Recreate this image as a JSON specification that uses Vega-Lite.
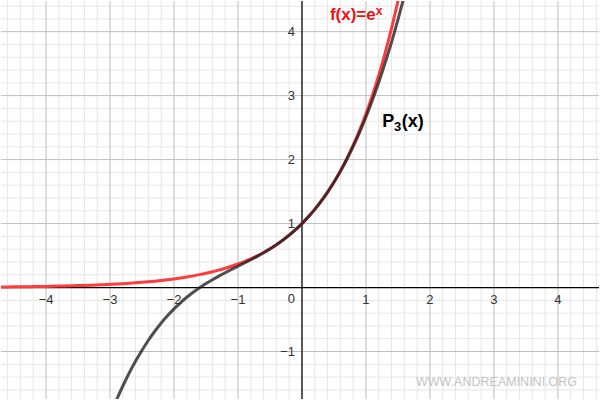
{
  "$schema": "https://vega.github.io/schema/vega-lite/v6.json",
  "width": 600,
  "height": 400,
  "padding": 0,
  "autosize": {"type": "fit", "contains": "padding"},
  "background": "white",
  "config": {"view": {"stroke": null}},
  "datasets": {
    "gx": [
      {"x": -4.6}, {"x": -4.4}, {"x": -4.2}, {"x": -4}, {"x": -3.8}, {"x": -3.6}, {"x": -3.4}, {"x": -3.2}, {"x": -3},
      {"x": -2.8}, {"x": -2.6}, {"x": -2.4}, {"x": -2.2}, {"x": -2}, {"x": -1.8}, {"x": -1.6}, {"x": -1.4}, {"x": -1.2}, {"x": -1},
      {"x": -0.8}, {"x": -0.6}, {"x": -0.4}, {"x": -0.2}, {"x": 0}, {"x": 0.2}, {"x": 0.4}, {"x": 0.6}, {"x": 0.8}, {"x": 1},
      {"x": 1.2}, {"x": 1.4}, {"x": 1.6}, {"x": 1.8}, {"x": 2}, {"x": 2.2}, {"x": 2.4}, {"x": 2.6}, {"x": 2.8}, {"x": 3},
      {"x": 3.2}, {"x": 3.4}, {"x": 3.6}, {"x": 3.8}, {"x": 4}, {"x": 4.2}, {"x": 4.4}, {"x": 4.6}
    ],
    "gy": [
      {"y": -1.6}, {"y": -1.4}, {"y": -1.2}, {"y": -1}, {"y": -0.8}, {"y": -0.6}, {"y": -0.4}, {"y": -0.2}, {"y": 0},
      {"y": 0.2}, {"y": 0.4}, {"y": 0.6}, {"y": 0.8}, {"y": 1}, {"y": 1.2}, {"y": 1.4}, {"y": 1.6}, {"y": 1.8}, {"y": 2},
      {"y": 2.2}, {"y": 2.4}, {"y": 2.6}, {"y": 2.8}, {"y": 3}, {"y": 3.2}, {"y": 3.4}, {"y": 3.6}, {"y": 3.8}, {"y": 4},
      {"y": 4.2}, {"y": 4.4}
    ],
    "ex": [
      {"x": -4.8, "y": 0.00823}, {"x": -4.7, "y": 0.0091}, {"x": -4.6, "y": 0.01005}, {"x": -4.5, "y": 0.01111},
      {"x": -4.4, "y": 0.01228}, {"x": -4.3, "y": 0.01357}, {"x": -4.2, "y": 0.015}, {"x": -4.1, "y": 0.01657},
      {"x": -4.0, "y": 0.01832}, {"x": -3.9, "y": 0.02024}, {"x": -3.8, "y": 0.02237}, {"x": -3.7, "y": 0.02472},
      {"x": -3.6, "y": 0.02732}, {"x": -3.5, "y": 0.0302}, {"x": -3.4, "y": 0.03337}, {"x": -3.3, "y": 0.03688},
      {"x": -3.2, "y": 0.04076}, {"x": -3.1, "y": 0.04505}, {"x": -3.0, "y": 0.04979}, {"x": -2.9, "y": 0.05502},
      {"x": -2.8, "y": 0.06081}, {"x": -2.7, "y": 0.06721}, {"x": -2.6, "y": 0.07427}, {"x": -2.5, "y": 0.08208},
      {"x": -2.4, "y": 0.09072}, {"x": -2.3, "y": 0.10026}, {"x": -2.2, "y": 0.1108}, {"x": -2.1, "y": 0.12246},
      {"x": -2.0, "y": 0.13534}, {"x": -1.9, "y": 0.14957}, {"x": -1.8, "y": 0.1653}, {"x": -1.7, "y": 0.18268},
      {"x": -1.6, "y": 0.2019}, {"x": -1.5, "y": 0.22313}, {"x": -1.4, "y": 0.2466}, {"x": -1.3, "y": 0.27253},
      {"x": -1.2, "y": 0.30119}, {"x": -1.1, "y": 0.33287}, {"x": -1.0, "y": 0.36788}, {"x": -0.9, "y": 0.40657},
      {"x": -0.8, "y": 0.44933}, {"x": -0.7, "y": 0.49659}, {"x": -0.6, "y": 0.54881}, {"x": -0.5, "y": 0.60653},
      {"x": -0.4, "y": 0.67032}, {"x": -0.3, "y": 0.74082}, {"x": -0.2, "y": 0.81873}, {"x": -0.1, "y": 0.90484},
      {"x": 0.0, "y": 1.0}, {"x": 0.1, "y": 1.10517}, {"x": 0.2, "y": 1.2214}, {"x": 0.3, "y": 1.34986},
      {"x": 0.4, "y": 1.49182}, {"x": 0.5, "y": 1.64872}, {"x": 0.6, "y": 1.82212}, {"x": 0.7, "y": 2.01375},
      {"x": 0.8, "y": 2.22554}, {"x": 0.9, "y": 2.4596}, {"x": 1.0, "y": 2.71828}, {"x": 1.1, "y": 3.00417},
      {"x": 1.2, "y": 3.32012}, {"x": 1.3, "y": 3.6693}, {"x": 1.4, "y": 4.0552}, {"x": 1.5, "y": 4.48169},
      {"x": 1.6, "y": 4.95303}
    ],
    "p3": [
      {"x": -3.0, "y": -2.0}, {"x": -2.9, "y": -1.7598}, {"x": -2.8, "y": -1.5387}, {"x": -2.7, "y": -1.3355},
      {"x": -2.6, "y": -1.1493}, {"x": -2.5, "y": -0.9792}, {"x": -2.4, "y": -0.824}, {"x": -2.3, "y": -0.6828},
      {"x": -2.2, "y": -0.5547}, {"x": -2.1, "y": -0.4385}, {"x": -2.0, "y": -0.3333}, {"x": -1.9, "y": -0.2382},
      {"x": -1.8, "y": -0.152}, {"x": -1.7, "y": -0.0738}, {"x": -1.6, "y": -0.0027}, {"x": -1.5, "y": 0.0625},
      {"x": -1.4, "y": 0.1227}, {"x": -1.3, "y": 0.1788}, {"x": -1.2, "y": 0.232}, {"x": -1.1, "y": 0.2832},
      {"x": -1.0, "y": 0.3333}, {"x": -0.9, "y": 0.3835}, {"x": -0.8, "y": 0.4347}, {"x": -0.7, "y": 0.4878},
      {"x": -0.6, "y": 0.544}, {"x": -0.5, "y": 0.6042}, {"x": -0.4, "y": 0.6693}, {"x": -0.3, "y": 0.7405},
      {"x": -0.2, "y": 0.8187}, {"x": -0.1, "y": 0.9048}, {"x": 0.0, "y": 1.0}, {"x": 0.1, "y": 1.1052},
      {"x": 0.2, "y": 1.2213}, {"x": 0.3, "y": 1.3495}, {"x": 0.4, "y": 1.4907}, {"x": 0.5, "y": 1.6458},
      {"x": 0.6, "y": 1.816}, {"x": 0.7, "y": 2.0022}, {"x": 0.8, "y": 2.2053}, {"x": 0.9, "y": 2.4265},
      {"x": 1.0, "y": 2.6667}, {"x": 1.1, "y": 2.9268}, {"x": 1.2, "y": 3.208}, {"x": 1.3, "y": 3.5112},
      {"x": 1.4, "y": 3.8373}, {"x": 1.5, "y": 4.1875}, {"x": 1.6, "y": 4.5627}, {"x": 1.7, "y": 4.9638}
    ],
    "xt": [
      {"x": -4, "y": 0, "t": "−4"}, {"x": -3, "y": 0, "t": "−3"}, {"x": -2, "y": 0, "t": "−2"}, {"x": -1, "y": 0, "t": "−1"},
      {"x": 1, "y": 0, "t": "1"}, {"x": 2, "y": 0, "t": "2"}, {"x": 3, "y": 0, "t": "3"}, {"x": 4, "y": 0, "t": "4"}
    ],
    "yt": [
      {"x": 0, "y": -1, "t": "−1"}, {"x": 0, "y": 1, "t": "1"}, {"x": 0, "y": 2, "t": "2"}, {"x": 0, "y": 3, "t": "3"}, {"x": 0, "y": 4, "t": "4"}
    ]
  },
  "layer": [
    {
      "data": {"name": "gx"},
      "transform": [{"filter": "abs(datum.x - round(datum.x)) > 0.001"}],
      "mark": {"type": "rule", "color": "#e6e6e6", "strokeWidth": 1},
      "encoding": {
        "x": {"field": "x", "type": "quantitative", "scale": {"domain": [-4.704, 4.642], "nice": false, "zero": false}, "axis": null}
      }
    },
    {
      "data": {"name": "gy"},
      "transform": [{"filter": "abs(datum.y - round(datum.y)) > 0.001"}],
      "mark": {"type": "rule", "color": "#e6e6e6", "strokeWidth": 1},
      "encoding": {
        "y": {"field": "y", "type": "quantitative", "scale": {"domain": [-1.742, 4.479], "nice": false, "zero": false}, "axis": null}
      }
    },
    {
      "data": {"name": "gx"},
      "transform": [{"filter": "abs(datum.x - round(datum.x)) < 0.001"}],
      "mark": {"type": "rule", "color": "#bdbdbd", "strokeWidth": 1},
      "encoding": {
        "x": {"field": "x", "type": "quantitative", "scale": {"domain": [-4.704, 4.642], "nice": false, "zero": false}, "axis": null}
      }
    },
    {
      "data": {"name": "gy"},
      "transform": [{"filter": "abs(datum.y - round(datum.y)) < 0.001"}],
      "mark": {"type": "rule", "color": "#bdbdbd", "strokeWidth": 1},
      "encoding": {
        "y": {"field": "y", "type": "quantitative", "scale": {"domain": [-1.742, 4.479], "nice": false, "zero": false}, "axis": null}
      }
    },
    {
      "data": {"values": [{"x": 0, "x2": 0, "y": -2, "y2": 5}, {"x": -5, "x2": 5, "y": 0, "y2": 0}]},
      "mark": {"type": "rule", "color": "#000000", "strokeWidth": 1.2, "clip": true},
      "encoding": {
        "x": {"field": "x", "type": "quantitative", "scale": {"domain": [-4.704, 4.642], "nice": false, "zero": false}, "axis": null},
        "x2": {"field": "x2"},
        "y": {"field": "y", "type": "quantitative", "scale": {"domain": [-1.742, 4.479], "nice": false, "zero": false}, "axis": null},
        "y2": {"field": "y2"}
      }
    },
    {
      "data": {"name": "ex"},
      "mark": {"type": "line", "color": "#ff3b3b", "strokeWidth": 3, "clip": true, "interpolate": "monotone"},
      "encoding": {
        "x": {"field": "x", "type": "quantitative", "scale": {"domain": [-4.704, 4.642], "nice": false, "zero": false}, "axis": null},
        "y": {"field": "y", "type": "quantitative", "scale": {"domain": [-1.742, 4.479], "nice": false, "zero": false}, "axis": null}
      }
    },
    {
      "data": {"name": "p3"},
      "mark": {"type": "line", "color": "#1e1e1e", "opacity": 0.78, "strokeWidth": 3, "clip": true, "interpolate": "monotone"},
      "encoding": {
        "x": {"field": "x", "type": "quantitative", "scale": {"domain": [-4.704, 4.642], "nice": false, "zero": false}, "axis": null},
        "y": {"field": "y", "type": "quantitative", "scale": {"domain": [-1.742, 4.479], "nice": false, "zero": false}, "axis": null}
      }
    },
    {
      "data": {"name": "xt"},
      "mark": {"type": "text", "font": "Liberation Sans", "fontSize": 13, "color": "#333333", "align": "center", "baseline": "middle", "dy": 12},
      "encoding": {
        "x": {"field": "x", "type": "quantitative", "scale": {"domain": [-4.704, 4.642], "nice": false, "zero": false}, "axis": null},
        "y": {"field": "y", "type": "quantitative", "scale": {"domain": [-1.742, 4.479], "nice": false, "zero": false}, "axis": null},
        "text": {"field": "t"}
      }
    },
    {
      "data": {"name": "yt"},
      "mark": {"type": "text", "font": "Liberation Sans", "fontSize": 13, "color": "#333333", "align": "right", "baseline": "middle", "dx": -7},
      "encoding": {
        "x": {"field": "x", "type": "quantitative", "scale": {"domain": [-4.704, 4.642], "nice": false, "zero": false}, "axis": null},
        "y": {"field": "y", "type": "quantitative", "scale": {"domain": [-1.742, 4.479], "nice": false, "zero": false}, "axis": null},
        "text": {"field": "t"}
      }
    },
    {
      "data": {"values": [{"x": 0, "y": 0, "t": "0"}]},
      "mark": {"type": "text", "font": "Liberation Sans", "fontSize": 13, "color": "#333333", "align": "center", "baseline": "middle", "dx": -10.5, "dy": 11},
      "encoding": {
        "x": {"field": "x", "type": "quantitative", "scale": {"domain": [-4.704, 4.642], "nice": false, "zero": false}, "axis": null},
        "y": {"field": "y", "type": "quantitative", "scale": {"domain": [-1.742, 4.479], "nice": false, "zero": false}, "axis": null},
        "text": {"field": "t"}
      }
    },
    {
      "data": {"values": [{"x": 0.436, "y": 4.176, "t": "f(x)=e"}]},
      "mark": {"type": "text", "font": "Liberation Sans", "fontSize": 17, "fontWeight": "bold", "color": "#ee1111", "align": "left", "baseline": "alphabetic"},
      "encoding": {
        "x": {"field": "x", "type": "quantitative", "scale": {"domain": [-4.704, 4.642], "nice": false, "zero": false}, "axis": null},
        "y": {"field": "y", "type": "quantitative", "scale": {"domain": [-1.742, 4.479], "nice": false, "zero": false}, "axis": null},
        "text": {"field": "t"}
      }
    },
    {
      "data": {"values": [{"x": 1.153, "y": 4.262, "t": "x"}]},
      "mark": {"type": "text", "font": "Liberation Sans", "fontSize": 12, "fontWeight": "bold", "color": "#ee1111", "align": "left", "baseline": "alphabetic"},
      "encoding": {
        "x": {"field": "x", "type": "quantitative", "scale": {"domain": [-4.704, 4.642], "nice": false, "zero": false}, "axis": null},
        "y": {"field": "y", "type": "quantitative", "scale": {"domain": [-1.742, 4.479], "nice": false, "zero": false}, "axis": null},
        "text": {"field": "t"}
      }
    },
    {
      "data": {"values": [{"x": 1.253, "y": 2.509, "t": "P"}, {"x": 1.558, "y": 2.509, "t": "(x)"}]},
      "mark": {"type": "text", "font": "Liberation Sans", "fontSize": 18, "fontWeight": "bold", "color": "#000000", "align": "left", "baseline": "alphabetic"},
      "encoding": {
        "x": {"field": "x", "type": "quantitative", "scale": {"domain": [-4.704, 4.642], "nice": false, "zero": false}, "axis": null},
        "y": {"field": "y", "type": "quantitative", "scale": {"domain": [-1.742, 4.479], "nice": false, "zero": false}, "axis": null},
        "text": {"field": "t"}
      }
    },
    {
      "data": {"values": [{"x": 1.44, "y": 2.446, "t": "3"}]},
      "mark": {"type": "text", "font": "Liberation Sans", "fontSize": 13, "fontWeight": "bold", "color": "#000000", "align": "left", "baseline": "alphabetic"},
      "encoding": {
        "x": {"field": "x", "type": "quantitative", "scale": {"domain": [-4.704, 4.642], "nice": false, "zero": false}, "axis": null},
        "y": {"field": "y", "type": "quantitative", "scale": {"domain": [-1.742, 4.479], "nice": false, "zero": false}, "axis": null},
        "text": {"field": "t"}
      }
    },
    {
      "data": {"values": [{"x": 4.299, "y": -1.54, "t": "WWW.ANDREAMININI.ORG"}]},
      "mark": {"type": "text", "font": "Liberation Sans", "fontSize": 12.5, "color": "#c4c4c4", "align": "right", "baseline": "alphabetic"},
      "encoding": {
        "x": {"field": "x", "type": "quantitative", "scale": {"domain": [-4.704, 4.642], "nice": false, "zero": false}, "axis": null},
        "y": {"field": "y", "type": "quantitative", "scale": {"domain": [-1.742, 4.479], "nice": false, "zero": false}, "axis": null},
        "text": {"field": "t"}
      }
    }
  ]
}
